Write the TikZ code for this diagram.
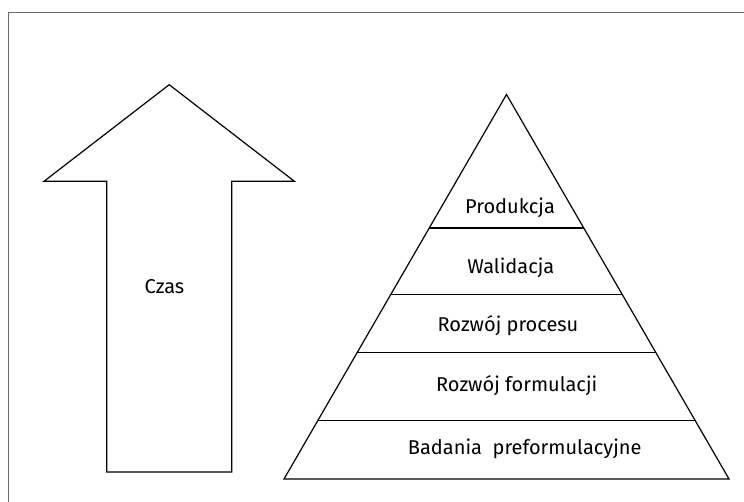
\documentclass[tikz,border=0pt]{standalone}
\usepackage{fontspec}
\setmainfont{Fira Sans}
\usetikzlibrary{calc}
\begin{document}
\begin{tikzpicture}[x=1pt,y=-1pt,
  shape line/.style={draw=black,line width=1.2pt,line join=miter},
  frame line/.style={draw=black!58,line width=1.5pt},
  label text/.style={font=\fontsize{20}{22}\selectfont,anchor=base,inner sep=0pt}]
\useasboundingbox (0,0) rectangle (744,501);
% frame (only top and left edges visible)
\draw[frame line] (8.5,520) -- (8.5,12.3) -- (760,12.3);
% arrow
\coordinate (tip) at (169.2,84.7);
\coordinate (hl) at (44,181.3);
\coordinate (hr) at (294.4,181.3);
\coordinate (sl) at (106.7,181.3);
\coordinate (sr) at (231.7,181.3);
\coordinate (bl) at (106.7,472);
\coordinate (br) at (231.7,472);
\draw[shape line] (tip) -- (hr) -- (sr) -- (br) -- (bl) -- (sl) -- (hl) -- cycle;
\node[label text] (czas) at (164.5,293.3) {Czas};
% pyramid
\coordinate (apex) at (506.5,94.5);
\coordinate (pl) at (284,479);
\coordinate (pr) at (729,479);
\draw[shape line] (apex) -- (pr) -- (pl) -- cycle;
\foreach \t [count=\i] in {0.3472,0.5196,0.6715,0.8473}{
  \coordinate (l\i) at ($(apex)!\t!(pl)$);
  \coordinate (r\i) at ($(apex)!\t!(pr)$);
  \draw[shape line] (l\i) -- (r\i);
}
\node[label text] (p1) at (510,213) {Produkcja};
\node[label text] (p2) at (510.8,273) {Walidacja};
\node[label text] (p3) at (508,331.7) {Rozwój procesu};
\node[label text] (p4) at (516.7,391.7) {Rozwój formulacji};
\node[label text] (p5) at (524.7,454.5) {Badania\ \ preformulacyjne};
\end{tikzpicture}
\end{document}
